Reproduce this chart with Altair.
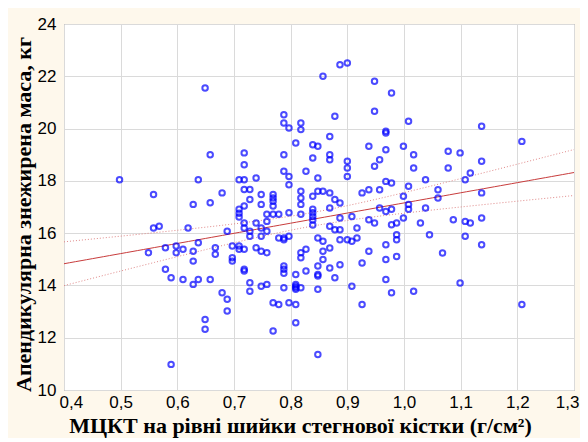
import altair as alt
import numpy as np
import pandas as pd

# BMD of femoral neck (g/cm2)
bmd = [
    0.498, 0.549, 0.558, 0.558, 0.568, 0.579, 0.579, 0.589, 0.589, 0.598,
    0.598, 0.610, 0.610, 0.619, 0.628, 0.628, 0.628, 0.628, 0.637, 0.637,
    0.637, 0.649, 0.649, 0.649, 0.658, 0.658, 0.658, 0.667, 0.667, 0.679,
    0.679, 0.688, 0.688, 0.688, 0.697, 0.697, 0.697, 0.709, 0.709, 0.709,
    0.709, 0.709, 0.709, 0.718, 0.718, 0.718, 0.718, 0.718, 0.718, 0.718,
    0.718, 0.718, 0.718, 0.728, 0.728, 0.728, 0.728, 0.728, 0.728, 0.739,
    0.739, 0.739, 0.748, 0.748, 0.748, 0.748, 0.748, 0.748, 0.758, 0.758,
    0.758, 0.758, 0.758, 0.769, 0.769, 0.769, 0.769, 0.769, 0.769, 0.769,
    0.779, 0.779, 0.779, 0.788, 0.788, 0.788, 0.788, 0.788, 0.788, 0.788,
    0.788, 0.788, 0.788, 0.797, 0.797, 0.797, 0.797, 0.797, 0.797, 0.809,
    0.809, 0.809, 0.809, 0.809, 0.809, 0.809, 0.809, 0.818, 0.818, 0.818,
    0.818, 0.818, 0.818, 0.818, 0.818, 0.818, 0.827, 0.827, 0.827, 0.839,
    0.839, 0.839, 0.839, 0.839, 0.839, 0.839, 0.839, 0.848, 0.848, 0.848,
    0.857, 0.848, 0.857, 0.857, 0.857, 0.848, 0.848, 0.848, 0.848, 0.848,
    0.857, 0.869, 0.869, 0.869, 0.869, 0.869, 0.869, 0.869, 0.869, 0.878,
    0.878, 0.878, 0.878, 0.887, 0.887, 0.887, 0.887, 0.887, 0.887, 0.900,
    0.900, 0.900, 0.900, 0.900, 0.908, 0.908, 0.908, 0.917, 0.917, 0.926,
    0.926, 0.926, 0.938, 0.938, 0.938, 0.938, 0.948, 0.948, 0.948, 0.948,
    0.957, 0.957, 0.957, 0.968, 0.968, 0.968, 0.968, 0.968, 0.968, 0.968,
    0.968, 0.978, 0.978, 0.978, 0.978, 0.978, 0.987, 0.987, 0.987, 0.987,
    0.999, 0.999, 0.999, 1.008, 1.008, 1.008, 1.008, 1.017, 1.017, 1.017,
    1.029, 1.038, 1.038, 1.045, 1.060, 1.060, 1.068, 1.078, 1.078, 1.087,
    1.099, 1.099, 1.108, 1.108, 1.108, 1.117, 1.117, 1.137, 1.137, 1.137,
    1.137, 1.137, 1.208, 1.208,
]

# Appendicular lean mass (kg)
lean = [
    18.04, 15.25, 17.48, 16.20, 16.26, 15.44, 14.62, 14.29, 10.98, 15.51,
    15.25, 15.38, 14.23, 16.20, 17.10, 15.31, 14.93, 14.04, 18.04, 15.63,
    14.23, 21.55, 12.70, 12.32, 19.00, 17.16, 14.23, 15.44, 15.19, 17.54,
    13.72, 16.07, 13.47, 13.02, 15.51, 15.06, 14.93, 18.04, 16.91, 16.76,
    16.62, 15.51, 15.38, 19.07, 18.62, 18.04, 17.67, 17.04, 16.39, 16.20,
    15.38, 14.62, 14.55, 17.67, 17.29, 16.07, 15.88, 14.10, 13.78, 18.11,
    16.39, 15.44, 17.48, 17.10, 16.20, 15.88, 15.31, 13.97, 16.72, 16.45,
    16.07, 15.25, 14.04, 17.48, 17.34, 17.22, 17.04, 16.72, 13.34, 12.26,
    16.72, 15.81, 13.27, 20.53, 20.21, 19.00, 18.37, 15.81, 15.75, 14.74,
    14.62, 14.47, 13.91, 20.02, 18.17, 17.85, 16.78, 15.88, 13.34, 19.45,
    14.42, 14.04, 13.97, 13.91, 13.85, 13.27, 12.57, 20.21, 19.96, 17.60,
    17.34, 17.10, 16.72, 15.25, 15.06, 13.91, 18.37, 15.38, 14.55, 19.38,
    18.87, 17.41, 16.91, 16.78, 16.64, 16.50, 16.31, 19.32, 18.11, 17.60,
    17.60, 15.81, 15.69, 15.31, 14.99, 14.74, 14.42, 14.36, 13.85, 11.36,
    22.00, 19.70, 19.00, 18.81, 17.54, 16.96, 16.26, 15.43, 14.67, 20.47,
    17.29, 16.13, 14.29, 22.44, 17.15, 16.58, 16.13, 15.75, 14.79, 22.51,
    18.75, 18.49, 18.17, 15.75, 16.64, 15.69, 13.97, 16.20, 15.81, 17.54,
    14.86, 13.27, 19.32, 17.66, 16.51, 15.31, 21.81, 20.66, 18.56, 16.39,
    18.81, 17.66, 16.96, 19.90, 19.83, 19.19, 17.98, 16.83, 15.56, 14.99,
    14.23, 21.36, 17.92, 16.91, 16.32, 13.72, 16.39, 15.94, 15.75, 15.11,
    19.32, 17.41, 16.58, 20.28, 17.79, 17.10, 16.91, 19.00, 18.49, 13.78,
    16.39, 18.04, 16.96, 15.94, 17.66, 17.34, 15.24, 19.13, 18.49, 16.51,
    19.07, 14.09, 18.04, 16.45, 15.88, 18.30, 16.39, 20.09, 18.75, 17.54,
    16.58, 15.56, 19.51, 13.27,
]

x_ticks = [0.4, 0.5, 0.6, 0.7, 0.8, 0.9, 1.0, 1.1, 1.2, 1.3]
y_ticks = [10, 12, 14, 16, 18, 20, 22, 24]

x_title = "МЦКТ на рівні шийки стегнової кістки (г/см²)"
y_title = "Апендикулярна знежирена маса, кг"

pts = pd.DataFrame({"bmd": bmd, "lean": lean})

# linear regression and 95% confidence band for the mean, computed from the data
xa = np.array(bmd)
ya = np.array(lean)
n = len(xa)
slope, icpt = np.polyfit(xa, ya, 1)
res = ya - (icpt + slope * xa)
s = np.sqrt(np.sum(res ** 2) / (n - 2))
xbar = xa.mean()
sxx = np.sum((xa - xbar) ** 2)
grid = np.linspace(0.4, 1.3, 91)
fit = icpt + slope * grid
half = 1.97 * s * np.sqrt(1.0 / n + (grid - xbar) ** 2 / sxx)
reg = pd.DataFrame({"bmd": grid, "fit": fit, "lo": fit - half, "hi": fit + half})

label_expr = "replace(format(datum.value, '.1f'), '.', ',')"

xscale = alt.Scale(domain=[0.4, 1.3], nice=False, zero=False)
yscale = alt.Scale(domain=[10, 24], nice=False, zero=False)

xaxis = alt.Axis(
    title=x_title, values=x_ticks, labelExpr=label_expr,
    labelFont="Liberation Sans", labelFontSize=17, labelColor="#000000",
    labelPadding=4, ticks=False, tickSize=0, domain=False,
    grid=True, gridColor="#DADADA", gridWidth=1,
    titleFont="Liberation Serif", titleFontSize=22, titleFontWeight="bold",
    titleColor="#000000", titleX=236, titleY=35, titleBaseline="middle",
    titleAlign="center", labelFlush=True, labelFlushOffset=5,
)
yaxis = alt.Axis(
    title=y_title, values=y_ticks, format="d",
    labelFont="Liberation Sans", labelFontSize=17, labelColor="#000000",
    labelPadding=8, ticks=False, tickSize=0, domain=False,
    grid=True, gridColor="#DADADA", gridWidth=1,
    titleFont="Liberation Serif", titleFontSize=22, titleFontWeight="bold",
    titleColor="#000000", titleX=-41, titleY=190, titleAngle=270,
    titleBaseline="middle", titleAlign="center", labelFlush=False,
)

points = alt.Chart(pts).mark_point(
    shape="circle", filled=False, color="#0000FF", size=30, strokeWidth=2
).encode(
    x=alt.X("bmd:Q", scale=xscale, axis=xaxis),
    y=alt.Y("lean:Q", scale=yscale, axis=yaxis),
)

base = alt.Chart(reg)
fit_line = base.mark_line(color="#C83C3C", strokeWidth=1).encode(
    x=alt.X("bmd:Q", scale=xscale), y=alt.Y("fit:Q", scale=yscale)
)
lo_line = base.mark_line(color="#E08888", strokeWidth=1, strokeDash=[1, 2]).encode(
    x=alt.X("bmd:Q", scale=xscale), y=alt.Y("lo:Q", scale=yscale)
)
hi_line = base.mark_line(color="#E08888", strokeWidth=1, strokeDash=[1, 2]).encode(
    x=alt.X("bmd:Q", scale=xscale), y=alt.Y("hi:Q", scale=yscale)
)

chart = alt.layer(lo_line, hi_line, fit_line, points).properties(
    width=510, height=366,
    autosize=alt.AutoSizeParams(type="none"),
    padding={"left": 56, "top": 16, "right": 6, "bottom": 48},
    background="#FEF8EC",
).configure_view(
    fill="#FFFFFF", stroke="#7A7A7A", strokeWidth=1
)

chart.save("out.html", embed_options={"renderer": "svg", "actions": False})
